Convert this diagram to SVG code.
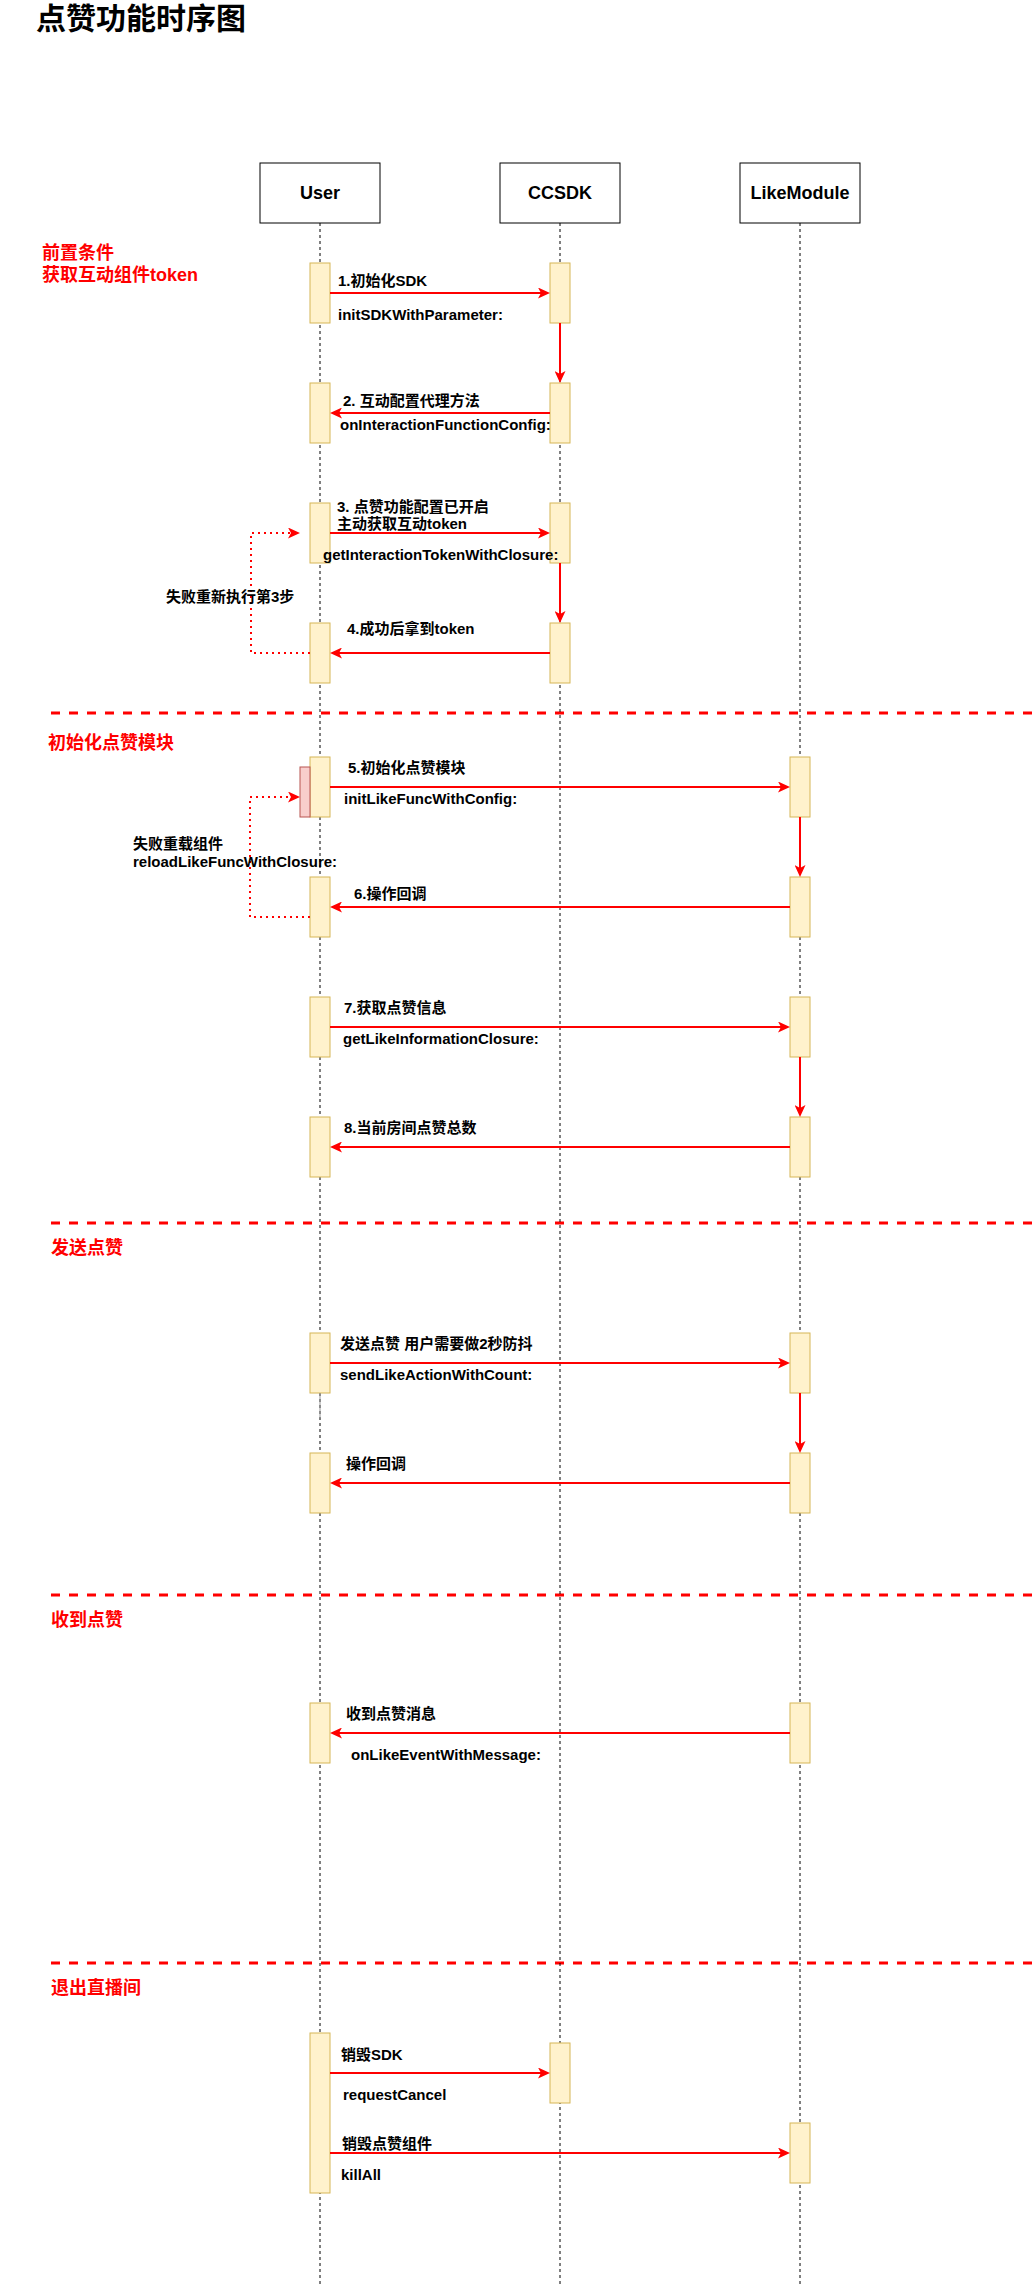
<svg xmlns="http://www.w3.org/2000/svg" width="1033" height="2285" viewBox="0 0 1033 2285">
<style>
text{font-family:"Liberation Sans","Noto Sans CJK SC",sans-serif;font-weight:bold;dominant-baseline:central}
.title{font-size:30px;fill:#000}
.sec{font-size:18px;fill:#FF0000}
.msg{font-size:15px;fill:#000}
.hdr{font-size:18px;fill:#000;text-anchor:middle}
.box{fill:#fff;stroke:#000;stroke-width:1}
.life{stroke:#000;stroke-width:1;stroke-dasharray:3 3;fill:none}
.bar{fill:#fff2cc;stroke:#d6b656;stroke-width:1}
.bar2{fill:#f8cecc;stroke:#b85450;stroke-width:1}
.sep{stroke:#FF0000;stroke-width:3;stroke-dasharray:9 9;fill:none}
.arr{stroke:#FF0000;stroke-width:2;fill:none;marker-end:url(#ah)}
.loop{stroke:#FF0000;stroke-width:2;stroke-dasharray:2 4;fill:none;marker-end:url(#ah)}
</style>
<defs>
<marker id="ah" markerUnits="userSpaceOnUse" markerWidth="12" markerHeight="11" refX="3" refY="5.5" orient="auto" viewBox="0 0 12 11">
<path d="M0,0 L12,5.5 L0,11 L3,5.5 Z" fill="#FF0000"/>
</marker>
</defs>
<rect width="1033" height="2285" fill="#fff"/>
<text class="title" x="36" y="18.5">点赞功能时序图</text>

<g id="sections">
<text class="sec" x="42" y="253">前置条件</text>
<text class="sec" x="42" y="275">获取互动组件token</text>
<line class="sep" x1="51" y1="713" x2="1040" y2="713"/>
<text class="sec" x="48" y="743">初始化点赞模块</text>
<line class="sep" x1="51" y1="1223" x2="1040" y2="1223"/>
<text class="sec" x="51" y="1248">发送点赞</text>
<line class="sep" x1="51" y1="1595" x2="1040" y2="1595"/>
<text class="sec" x="51" y="1620">收到点赞</text>
<line class="sep" x1="51" y1="1963" x2="1040" y2="1963"/>
<text class="sec" x="51" y="1988">退出直播间</text>
</g>

<g id="user">
<line class="life" x1="320" y1="223" x2="320" y2="2285"/>
<rect class="box" x="260" y="163" width="120" height="60"/>
<text class="hdr" x="320" y="193">User</text>
<rect class="bar" x="310" y="263" width="20" height="60"/>
<rect class="bar" x="310" y="383" width="20" height="60"/>
<rect class="bar" x="310" y="503" width="20" height="60"/>
<rect class="bar" x="310" y="623" width="20" height="60"/>
<rect class="bar" x="310" y="757" width="20" height="60"/>
<rect class="bar2" x="300" y="767" width="10" height="50"/>
<rect class="bar" x="310" y="877" width="20" height="60"/>
<rect class="bar" x="310" y="997" width="20" height="60"/>
<rect class="bar" x="310" y="1117" width="20" height="60"/>
<rect class="bar" x="310" y="1333" width="20" height="60"/>
<line x1="320" y1="1393" x2="320" y2="1418" stroke="#999" stroke-width="1"/>
<rect class="bar" x="310" y="1453" width="20" height="60"/>
<rect class="bar" x="310" y="1703" width="20" height="60"/>
<rect class="bar" x="310" y="2033" width="20" height="160"/>
</g>

<g id="ccsdk">
<line class="life" x1="560" y1="223" x2="560" y2="2285"/>
<rect class="box" x="500" y="163" width="120" height="60"/>
<text class="hdr" x="560" y="193">CCSDK</text>
<rect class="bar" x="550" y="263" width="20" height="60"/>
<rect class="bar" x="550" y="383" width="20" height="60"/>
<rect class="bar" x="550" y="503" width="20" height="60"/>
<rect class="bar" x="550" y="623" width="20" height="60"/>
<rect class="bar" x="550" y="2043" width="20" height="60"/>
</g>

<g id="likemodule">
<line class="life" x1="800" y1="223" x2="800" y2="2285"/>
<rect class="box" x="740" y="163" width="120" height="60"/>
<text class="hdr" x="800" y="193">LikeModule</text>
<rect class="bar" x="790" y="757" width="20" height="60"/>
<rect class="bar" x="790" y="877" width="20" height="60"/>
<rect class="bar" x="790" y="997" width="20" height="60"/>
<rect class="bar" x="790" y="1117" width="20" height="60"/>
<rect class="bar" x="790" y="1333" width="20" height="60"/>
<rect class="bar" x="790" y="1453" width="20" height="60"/>
<rect class="bar" x="790" y="1703" width="20" height="60"/>
<rect class="bar" x="790" y="2123" width="20" height="60"/>
</g>

<g id="connectors">
<path class="arr" d="M330,293 H541"/>
<path class="arr" d="M560,323 V374"/>
<path class="arr" d="M550,413 H339"/>
<path class="arr" d="M330,533 H541"/>
<path class="arr" d="M560,563 V614"/>
<path class="arr" d="M550,653 H339"/>
<path class="loop" d="M310,653 H251 V533 H291"/>
<path class="arr" d="M330,787 H781"/>
<path class="loop" d="M310,917 H250 V797 H291"/>
<path class="arr" d="M800,817 V868"/>
<path class="arr" d="M790,907 H339"/>
<path class="arr" d="M330,1027 H781"/>
<path class="arr" d="M800,1057 V1108"/>
<path class="arr" d="M790,1147 H339"/>
<path class="arr" d="M330,1363 H781"/>
<path class="arr" d="M800,1393 V1444"/>
<path class="arr" d="M790,1483 H339"/>
<path class="arr" d="M790,1733 H339"/>
<path class="arr" d="M330,2073 H541"/>
<path class="arr" d="M330,2153 H781"/>
</g>

<g id="labels">
<text class="msg" x="338" y="280">1.初始化SDK</text>
<text class="msg" x="338" y="314">initSDKWithParameter:</text>
<text class="msg" x="343" y="400">2. 互动配置代理方法</text>
<text class="msg" x="340" y="424">onInteractionFunctionConfig:</text>
<text class="msg" x="337" y="506">3. 点赞功能配置已开启</text>
<text class="msg" x="337" y="523">主动获取互动token</text>
<text class="msg" x="323" y="554">getInteractionTokenWithClosure:</text>
<text class="msg" x="166" y="596">失败重新执行第3步</text>
<text class="msg" x="347" y="628">4.成功后拿到token</text>
<text class="msg" x="348" y="767">5.初始化点赞模块</text>
<text class="msg" x="344" y="798">initLikeFuncWithConfig:</text>
<text class="msg" x="133" y="843">失败重载组件</text>
<text class="msg" x="133" y="861">reloadLikeFuncWithClosure:</text>
<text class="msg" x="354" y="893">6.操作回调</text>
<text class="msg" x="344" y="1007">7.获取点赞信息</text>
<text class="msg" x="343" y="1038">getLikeInformationClosure:</text>
<text class="msg" x="344" y="1127">8.当前房间点赞总数</text>
<text class="msg" x="340" y="1343">发送点赞 用户需要做2秒防抖</text>
<text class="msg" x="340" y="1374">sendLikeActionWithCount:</text>
<text class="msg" x="346" y="1463">操作回调</text>
<text class="msg" x="346" y="1713">收到点赞消息</text>
<text class="msg" x="351" y="1754">onLikeEventWithMessage:</text>
<text class="msg" x="341" y="2054">销毁SDK</text>
<text class="msg" x="343" y="2094">requestCancel</text>
<text class="msg" x="342" y="2143">销毁点赞组件</text>
<text class="msg" x="341" y="2174">killAll</text>
</g>
</svg>
